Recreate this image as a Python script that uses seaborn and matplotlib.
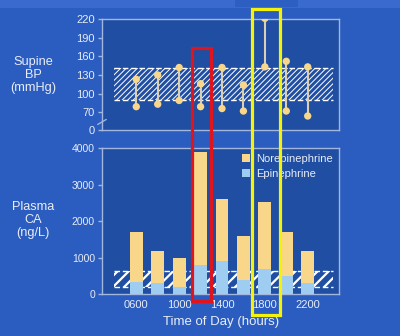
import numpy as np
import pandas as pd
import matplotlib
matplotlib.use("Agg")
import matplotlib.pyplot as plt
import seaborn as sns
from matplotlib.patches import Rectangle, Patch

# ---------------- data ----------------
times = ["0600", "0800", "1000", "1200", "1400", "1600", "1800", "2000", "2200"]
bp_high = [123, 130, 142, 116, 142, 114, 221, 152, 143]
bp_low = [79, 83, 89, 79, 76, 72, 143, 72, 64]
ca_total = [1700, 1200, 1000, 3900, 2600, 1600, 2520, 1700, 1200]
ca_epi = [350, 300, 200, 800, 900, 400, 700, 500, 300]
bp_tick_labels = ["0", "70", "100", "130", "160", "190", "220"]
bp_tick_values = [41.5, 70, 100, 130, 160, 190, 220]
ca_ticks = [0, 1000, 2000, 3000, 4000]
x_tick_labels = ["0600", "1000", "1400", "1800", "2200"]
bp_normal = (89, 141)
ca_normal = (200, 650)
legend_labels = ["Norepinephrine", "Epinephrine"]

# ---------------- style ----------------
sns.set_theme(style="white")
plt.rcParams['font.family'] = ['Liberation Sans', 'DejaVu Sans']

W, H = 400, 336
BG = '#2b5cbf'
AXC = '#1f4ea2'
TXT = '#e8edf6'
FRAME = '#a3b6dd'
NE = '#f8d68a'
EP = '#9fcdf2'
PIN = '#d9cfb4'

def fx(px):
    return px / W

def fy(py):
    return 1 - py / H

def set_hlw(patch, lw):
    if hasattr(patch, "set_hatch_linewidth"):
        patch.set_hatch_linewidth(lw)

fig = plt.figure(figsize=(4, 3.36), dpi=100)
fig.patch.set_facecolor(BG)

# top slide strip
fig.add_artist(Rectangle((0, fy(8)), 1, 8 / H, transform=fig.transFigure,
                         facecolor='#3a6ace', edgecolor='none', zorder=0))
fig.add_artist(Rectangle((fx(235), fy(7)), 63 / W, 7 / H, transform=fig.transFigure,
                         facecolor='#2d5ec2', edgecolor='none', zorder=0))

ax1 = fig.add_axes([fx(102), fy(130), (339 - 102) / W, (130 - 19) / H])
ax2 = fig.add_axes([fx(102), fy(294.3), (339 - 102) / W, (294.3 - 148.3) / H])

idx = np.arange(len(times))
xl = (-1.6, 9.46)

# ---------------- top panel ----------------
ax1.set_facecolor(AXC)
plt.rcParams['hatch.linewidth'] = 0.7
band1 = ax1.axhspan(bp_normal[0], bp_normal[1], xmin=0.05, xmax=0.975, facecolor='none',
                    edgecolor='white', hatch='//////', linewidth=0, zorder=1)
set_hlw(band1, 0.7)
ax1.hlines(list(bp_normal), xl[0] + 0.05 * (xl[1] - xl[0]), xl[0] + 0.975 * (xl[1] - xl[0]),
           colors='white', linestyles=(0, (4, 2)), linewidth=1.0, zorder=1.5)
ax1.vlines(idx, bp_low, bp_high, colors=PIN, linewidth=1.5, zorder=2)
df_bp = pd.DataFrame({"x": np.concatenate([idx, idx]),
                      "y": bp_high + bp_low})
sns.scatterplot(data=df_bp, x="x", y="y", ax=ax1, color=NE, s=28,
                edgecolor='none', zorder=3, legend=False)
ax1.set_xlim(*xl)
ax1.set_ylim(41.5, 220)
ax1.set_yticks(bp_tick_values)
ax1.set_yticklabels(bp_tick_labels)
ax1.set_xticks([])
ax1.set_xlabel("")
ax1.set_ylabel("")
ax1.tick_params(axis='y', length=3, width=1, color=FRAME, labelsize=8,
                labelcolor=TXT, pad=2, left=True)
for s in ax1.spines.values():
    s.set_color(FRAME)
    s.set_linewidth(1)
# axis break mark
ax1.plot([-0.018, 0.018], [0.05, 0.095], transform=ax1.transAxes, color=FRAME,
         linewidth=1, clip_on=False, zorder=5)

# ---------------- bottom panel ----------------
ax2.set_facecolor(AXC)
plt.rcParams['hatch.linewidth'] = 1.6
band2 = ax2.axhspan(ca_normal[0], ca_normal[1], xmin=0.05, xmax=0.975, facecolor='none',
                    edgecolor='white', hatch='///', linewidth=0, zorder=0.5)
set_hlw(band2, 1.6)
ax2.hlines(list(ca_normal), xl[0] + 0.05 * (xl[1] - xl[0]), xl[0] + 0.975 * (xl[1] - xl[0]),
           colors='white', linestyles=(0, (4, 2)), linewidth=1.0, zorder=0.6)
df_ca = pd.DataFrame({"time": times, "total": ca_total, "epi": ca_epi})
sns.barplot(data=df_ca, x="time", y="total", ax=ax2, color=NE, width=0.6,
            saturation=1, linewidth=0, zorder=2)
sns.barplot(data=df_ca, x="time", y="epi", ax=ax2, color=EP, width=0.6,
            saturation=1, linewidth=0, zorder=3)
ax2.set_xlim(*xl)
ax2.set_ylim(0, 4000)
ax2.set_yticks(ca_ticks)
ax2.set_yticklabels([str(v) for v in ca_ticks])
ax2.set_xticks([0, 2, 4, 6, 8])
ax2.set_xticklabels(x_tick_labels)
ax2.set_xlabel("")
ax2.set_ylabel("")
ax2.tick_params(axis='y', length=3, width=1, color=FRAME, labelsize=7.5,
                labelcolor=TXT, pad=2, left=True)
ax2.tick_params(axis='x', length=0, labelsize=8, labelcolor=TXT, pad=4)
for s in ax2.spines.values():
    s.set_color(FRAME)
    s.set_linewidth(1)

handles = [Patch(facecolor=NE, edgecolor='none'), Patch(facecolor=EP, edgecolor='none')]
ax2.legend(handles, legend_labels, loc='upper left',
           bbox_to_anchor=(fx(242), fy(154)), bbox_transform=fig.transFigure,
           frameon=False, fontsize=8, handlelength=0.75, handleheight=0.75,
           handletextpad=0.55, labelspacing=0.45, labelcolor=TXT,
           borderpad=0, borderaxespad=0)

# ---------------- labels ----------------
fig.text(fx(33), fy(75), "Supine\nBP\n(mmHg)", ha='center', va='center',
         fontsize=9.2, color=TXT, linespacing=1.15)
fig.text(fx(33), fy(220), "Plasma\nCA\n(ng/L)", ha='center', va='center',
         fontsize=9.2, color=TXT, linespacing=1.15)
fig.text(fx(221), fy(321.5), "Time of Day (hours)", ha='center', va='center',
         fontsize=9.5, color=TXT)

# ---------------- highlight boxes ----------------
fig.add_artist(Rectangle((fx(191.5), fy(301.2)), (211.2 - 191.5) / W, (301.2 - 48) / H,
                         transform=fig.transFigure, fill=False, edgecolor='#e0141c',
                         linewidth=2.3, zorder=20))
fig.add_artist(Rectangle((fx(251.5), fy(314.5)), (279.5 - 251.5) / W, (314.5 - 8.8) / H,
                         transform=fig.transFigure, fill=False, edgecolor='#f2f20a',
                         linewidth=2.3, zorder=20))

fig.savefig("out.png", dpi=100, facecolor=fig.get_facecolor())
